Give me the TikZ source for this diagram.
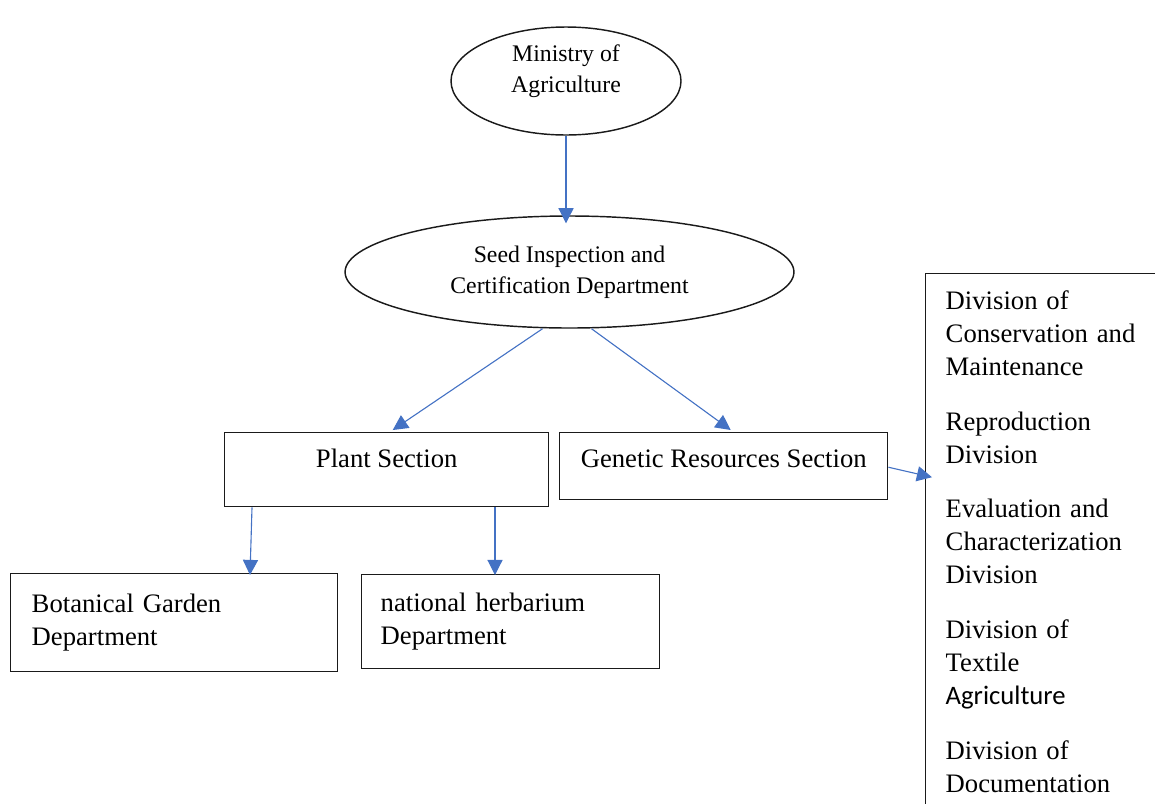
\documentclass[tikz,border=0pt]{standalone}
\usepackage{fontspec}
\setmainfont{Liberation Serif}
\newfontfamily\carlito{Carlito}
\usetikzlibrary{arrows.meta,shapes.geometric,calc}
\definecolor{Link}{HTML}{4472C4}
\definecolor{Edge}{HTML}{1A1A1A}

\begin{document}
\begin{tikzpicture}[x=0.45pt, y=-0.45pt,
  font=\fontsize{12}{14.85}\selectfont,
  unit/.style={draw=Edge, line width=0.65pt, inner sep=0pt},
  oval/.style={unit, ellipse, font=\fontsize{10.7}{13.95}\selectfont, align=center},
  section/.style={unit, anchor=north west, text height=15.75pt},
  office/.style={unit, anchor=north west, align=left},
  link/.style={draw=Link, line width=0.5pt, -{Triangle[length=6.8pt,width=6.8pt]}}]
  \useasboundingbox (0,0) rectangle (1155,803);
  \clip (0,0) rectangle (1155,803);

  % top of the tree
  \node[oval, minimum width=103.5pt, minimum height=48.6pt] (ministry) at (566,81) {};
  \node[font=\fontsize{10.7}{13.95}\selectfont, align=center, inner sep=0pt] (mintext) at (566,71) {Ministry of\\Agriculture};
  \node[oval, minimum width=202pt, minimum height=50.4pt] (seed) at (569.5,272) {Seed Inspection and\\Certification Department};

  % sections
  \node[section, minimum width=145.8pt, text depth=17.55pt] (plant) at (224,432) {Plant Section};
  \node[section, minimum width=147.6pt, text depth=14.4pt] (genetic) at (559,432) {Genetic Resources Section};

  % departments and divisions
  \node[office, inner xsep=9.45pt, text width=128.25pt, minimum height=44.1pt] (botanic) at (10,573) {Botanical Garden\\Department};
  \node[office, inner xsep=8.55pt, text width=117pt, minimum height=42.3pt] (herbarium) at (361,574) {national herbarium\\Department};
  \node[office, inner xsep=9pt, text width=96.75pt, minimum height=241.2pt] (divisions) at (925,273)
    {Division of\\Conservation and\\Maintenance\\[9.7pt]
     Reproduction\\Division\\[9.7pt]
     Evaluation and\\Characterization\\Division\\[9.7pt]
     Division of\\Textile\\{\carlito Agriculture}\\[9.7pt]
     Division of\\Documentation};

  \draw[link] (ministry.south) -- ($(ministry.south |- seed.north)+(0,8)$);
  \draw[link] ($(seed.south)+(-27,0)$) -- ($(plant.north)+(6,-2)$);
  \draw[link] ($(seed.south)+(22,0)$) -- ($(genetic.north)+(7,-2)$);
  \draw[link] ($(genetic.east)+(0,1)$) -- ($(genetic.east -| divisions.west)+(7,11)$);
  \draw[link] ($(plant.south west)+(28,0)$) -- ($(botanic.north west)+(240,2)$);
  \draw[link] ($(plant.south west)+(271,0)$) -- ($(plant.south west |- herbarium.north)+(271,1)$);
\end{tikzpicture}
\end{document}
